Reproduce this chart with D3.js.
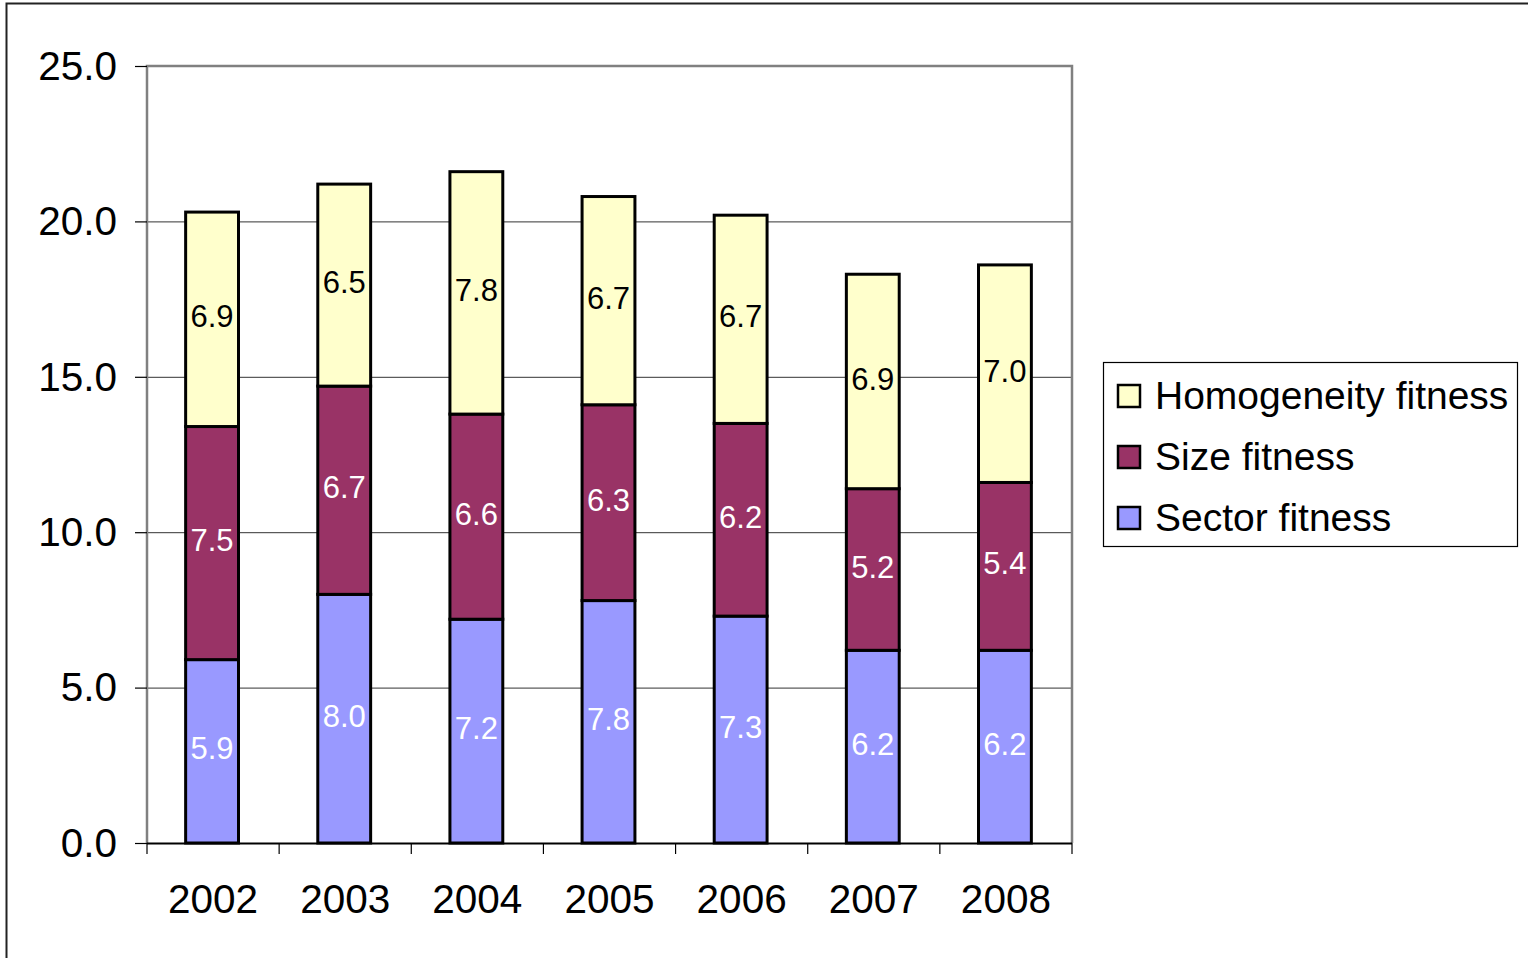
<!DOCTYPE html>
<html>
<head>
<meta charset="utf-8">
<script src="https://cdn.jsdelivr.net/npm/d3@7/dist/d3.min.js"></script>
<style>
  html, body { margin: 0; padding: 0; background: #fff; }
  svg { display: block; font-family: "Liberation Sans", Arial, sans-serif; }
</style>
</head>
<body>
<svg id="chart" width="1528" height="958"></svg>
<script>
const years = ["2002", "2003", "2004", "2005", "2006", "2007", "2008"];
const sector = [5.9, 8.0, 7.2, 7.8, 7.3, 6.2, 6.2];
const size = [7.5, 6.7, 6.6, 6.3, 6.2, 5.2, 5.4];
const homogeneity = [6.9, 6.5, 7.8, 6.7, 6.7, 6.9, 7.0];
const seriesNames = ["Sector fitness", "Size fitness", "Homogeneity fitness"];
const yTicks = [0, 5, 10, 15, 20, 25];

const colors = ["#9999FF", "#993366", "#FFFFCC"];
const labelColors = ["#ffffff", "#ffffff", "#000000"];

const svg = d3.select("#chart");

// outer chart frame
svg.append("rect").attr("x", 6.5).attr("y", 3.5).attr("width", 1540).attr("height", 1000)
  .attr("fill", "#fff").attr("stroke", "#222").attr("stroke-width", 2);

const pLeft = 147, pRight = 1072, pTop = 66, pBottom = 843;
const x = d3.scaleBand().domain(years).range([pLeft, pRight]).paddingInner(0.6).paddingOuter(0.3);
const xb = d3.scaleBand().domain(years).range([pLeft, pRight]);
const y = d3.scaleLinear().domain([0, 25]).range([pBottom, pTop]);

// gridlines
svg.append("g").selectAll("line").data(yTicks.filter(t => t > 0 && t < 25)).join("line")
  .attr("x1", pLeft).attr("x2", pRight).attr("y1", d => y(d) + 0.5).attr("y2", d => y(d) + 0.5)
  .attr("stroke", "#333").attr("stroke-width", 1);

// plot frame (gray)
svg.append("path")
  .attr("d", `M${pLeft},${pBottom} V${y(25)} H${pRight} V${pBottom}`)
  .attr("fill", "none").attr("stroke", "#808080").attr("stroke-width", 2.5);

// stacked data
const rows = years.map((yr, i) => ({ year: yr, s0: sector[i], s1: size[i], s2: homogeneity[i] }));
const stack = d3.stack().keys(["s0", "s1", "s2"])(rows);

stack.forEach((layer, li) => {
  const g = svg.append("g");
  g.selectAll("rect").data(layer).join("rect")
    .attr("x", d => x(d.data.year) - 1)
    .attr("y", d => y(d[1]))
    .attr("width", x.bandwidth())
    .attr("height", d => y(d[0]) - y(d[1]))
    .attr("fill", colors[li]).attr("stroke", "#000").attr("stroke-width", 3);
});
stack.forEach((layer, li) => {
  svg.append("g").selectAll("text").data(layer).join("text")
    .attr("x", d => x(d.data.year) - 1 + x.bandwidth() / 2)
    .attr("y", d => (y(d[0]) + y(d[1])) / 2)
    .attr("dy", "0.26em")
    .attr("text-anchor", "middle")
    .attr("font-size", 31)
    .attr("fill", labelColors[li])
    .text(d => (d[1] - d[0]).toFixed(1));
});

// y axis
const yAxis = d3.axisLeft(y).tickValues(yTicks).tickFormat(d3.format(".1f")).tickSize(12).tickPadding(18);
const ya = svg.append("g").attr("transform", `translate(${pLeft},0)`).call(yAxis);
ya.select(".domain").remove();
ya.selectAll("line").attr("stroke", "#000").attr("stroke-width", 1.2);
ya.selectAll("text").attr("font-size", 40.5).attr("fill", "#000").attr("dy", "0.33em")
  .attr("font-family", "Liberation Sans, Arial, sans-serif");

// x axis
svg.append("line").attr("x1", pLeft).attr("x2", pRight).attr("y1", pBottom + 0.5).attr("y2", pBottom + 0.5)
  .attr("stroke", "#000").attr("stroke-width", 2);
const bounds = years.map(d => xb(d)).concat([pRight]);
svg.append("g").selectAll("line").data(bounds).join("line")
  .attr("x1", d => d).attr("x2", d => d).attr("y1", pBottom).attr("y2", pBottom + 11)
  .attr("stroke", "#000").attr("stroke-width", 1.2);
svg.append("g").selectAll("text").data(years).join("text")
  .attr("x", d => xb(d) + xb.bandwidth() / 2)
  .attr("y", 913)
  .attr("text-anchor", "middle")
  .attr("font-size", 40.5)
  .attr("fill", "#000")
  .text(d => d);

// legend
const lg = svg.append("g");
lg.append("rect").attr("x", 1103.5).attr("y", 362.5).attr("width", 414).attr("height", 184)
  .attr("fill", "#fff").attr("stroke", "#000").attr("stroke-width", 1.2);
const legendOrder = [2, 1, 0];
legendOrder.forEach((si, k) => {
  const cy = 396 + k * 61;
  lg.append("rect").attr("x", 1118).attr("y", cy - 11).attr("width", 22).attr("height", 22)
    .attr("fill", colors[si]).attr("stroke", "#000").attr("stroke-width", 2.5);
  lg.append("text").attr("x", 1155).attr("y", cy + 13).attr("font-size", 39).attr("fill", "#000")
    .text(seriesNames[si]);
});
</script>
</body>
</html>
